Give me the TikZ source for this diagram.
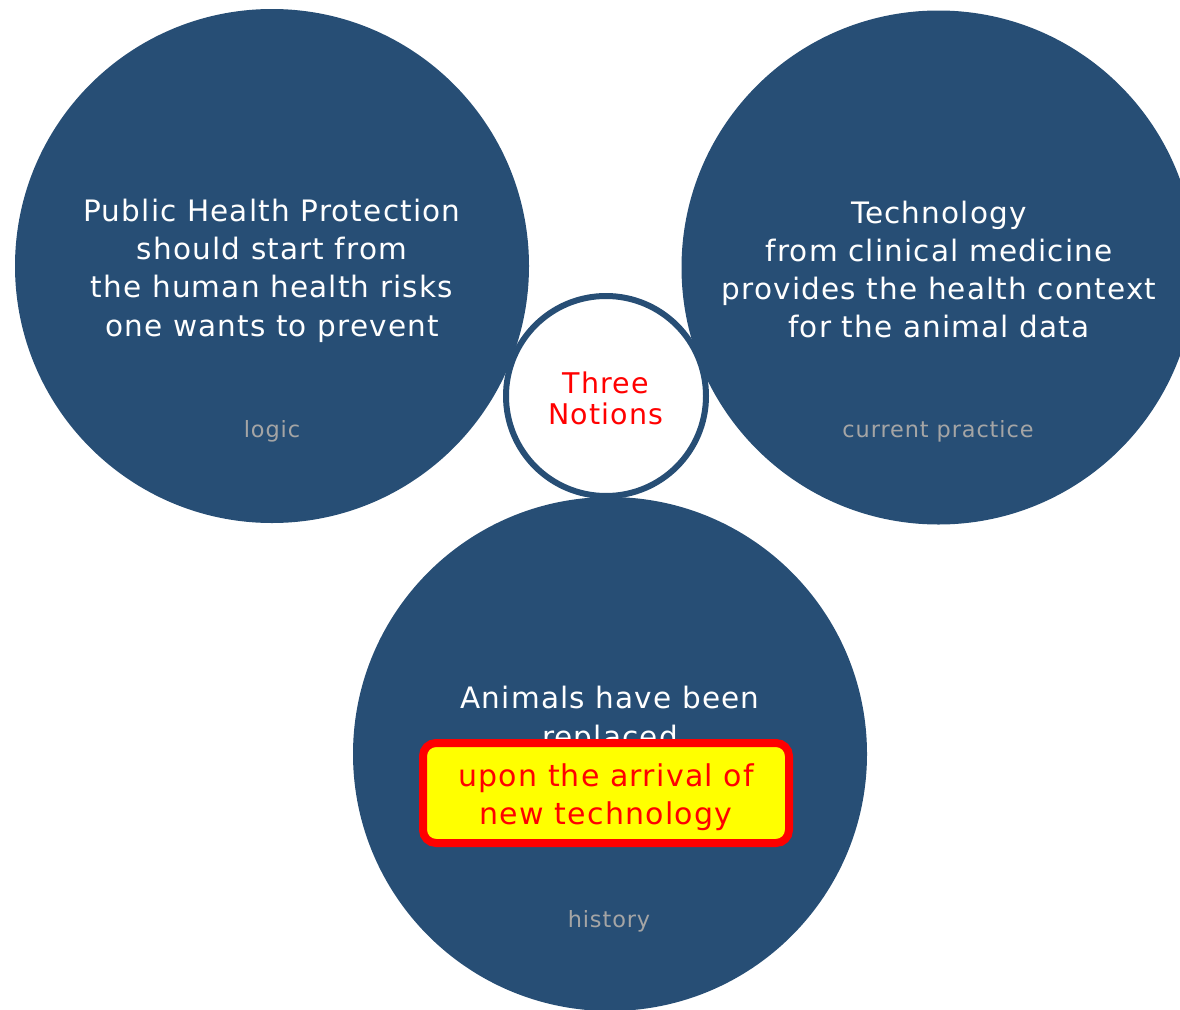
\documentclass[tikz,border=0pt]{standalone}
\usepackage{fontspec}
\setmainfont{DejaVu Sans}[LetterSpace=4]
\definecolor{navy}{HTML}{274E75}
\definecolor{notegray}{HTML}{A5A5A5}
\definecolor{notered}{RGB}{255,0,0}
\definecolor{noteyellow}{RGB}{255,255,0}
\begin{document}
\begin{tikzpicture}[x=1pt,y=-1pt,
  bigcircle/.style={circle, fill=navy, minimum size=514pt, inner sep=0pt},
  maintext/.style={text=white, align=center, font=\fontsize{29.5}{38.3}\selectfont},
  tagtext/.style={text=notegray, font=\fontsize{22.4}{26}\selectfont},
  hubcircle/.style={circle, draw=navy, line width=6pt, fill=white, minimum size=200pt, inner sep=0pt},
  hubtext/.style={text=notered, align=center, font=\fontsize{28.5}{31}\selectfont},
  notebox/.style={draw=notered, fill=noteyellow, line width=8pt, rounded corners=13pt, minimum width=366pt, minimum height=100pt},
  notetext/.style={text=notered, align=center, font=\fontsize{30}{37.5}\selectfont}]
\useasboundingbox (0,0) rectangle (1180,1009);
\clip (0,0) rectangle (1180,1009);
\node[bigcircle] (logic) at (272,266) {};
\node[bigcircle] (practice) at (938.5,267.5) {};
\node[bigcircle] (history) at (610,754) {};
\node[maintext] (logictext) at (272,270.5) {Public Health Protection\\should start from\\the human health risks\\one wants to prevent};
\node[tagtext] (logictag) at (272,431) {logic};
\node[maintext] (practicetext) at (939,269.5) {Technology\\from clinical medicine\\provides the health context\\for the animal data};
\node[tagtext] (practicetag) at (938,431) {current practice};
\node[maintext] (historytext) at (610,720) {Animals have been\\replaced};
\node[tagtext] (historytag) at (609,921) {history};
\node[hubcircle] (hub) at (606,396) {};
\node[hubtext] (hubtext) at (606,398.5) {Three\\Notions};
\node[notebox] (note) at (606,793) {};
\node[notetext] (notetext) at (note.center) [yshift=-4pt] {upon the arrival of\\new technology};
\end{tikzpicture}
\end{document}
